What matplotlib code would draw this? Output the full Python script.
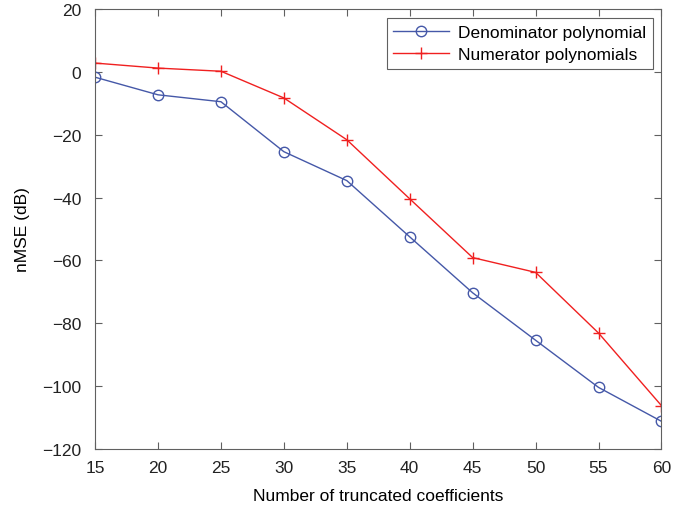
import matplotlib
matplotlib.use('Agg')
import matplotlib.pyplot as plt

# data
coeffs = [15, 20, 25, 30, 35, 40, 45, 50, 55, 60]
denominator = [-1.7, -7.3, -9.5, -25.4, -34.6, -52.5, -70.3, -85.4, -100.4, -111.2]
numerator = [2.8, 1.2, 0.2, -8.3, -21.6, -40.4, -59.1, -63.8, -83.1, -106.2]

plt.rcParams['font.family'] = ['Liberation Sans', 'DejaVu Sans']
plt.rcParams['font.size'] = 12.5

fig = plt.figure(figsize=(6.89, 5.06), dpi=100)
ax = fig.add_axes([0.138, 0.1107, 0.822, 0.8695])

ax.plot(coeffs, denominator, color='#4558a8', marker='o', markersize=7.5,
        markerfacecolor='none', linewidth=1, label='Denominator polynomial')
ax.plot(coeffs, numerator, color='#f02020', marker='+', markersize=9,
        linewidth=1, label='Numerator polynomials')

ax.set_xlim(15, 60)
ax.set_ylim(-120, 20)
ax.set_xticks(range(15, 61, 5))
ax.set_yticks(range(-120, 21, 20))
ax.set_yticklabels([str(v).replace('-', '\u2212') for v in range(-120, 21, 20)])

ax.set_xlabel('Number of truncated coefficients', labelpad=9)
ax.set_ylabel('nMSE (dB)', labelpad=9)

for s in ax.spines.values():
    s.set_color('#606060')
ax.tick_params(direction='in', top=True, right=True, length=5,
               color='#606060', labelcolor='#222222')
ax.tick_params(axis='y', pad=10)
ax.tick_params(axis='x', pad=8)

leg = ax.legend(loc='upper right', fancybox=False, framealpha=1,
                edgecolor='#606060', borderaxespad=0.5, handlelength=3.2,
                handletextpad=0.5, borderpad=0.4, labelspacing=0.4)
leg.get_frame().set_linewidth(0.8)

fig.savefig('out.png', dpi=100)
